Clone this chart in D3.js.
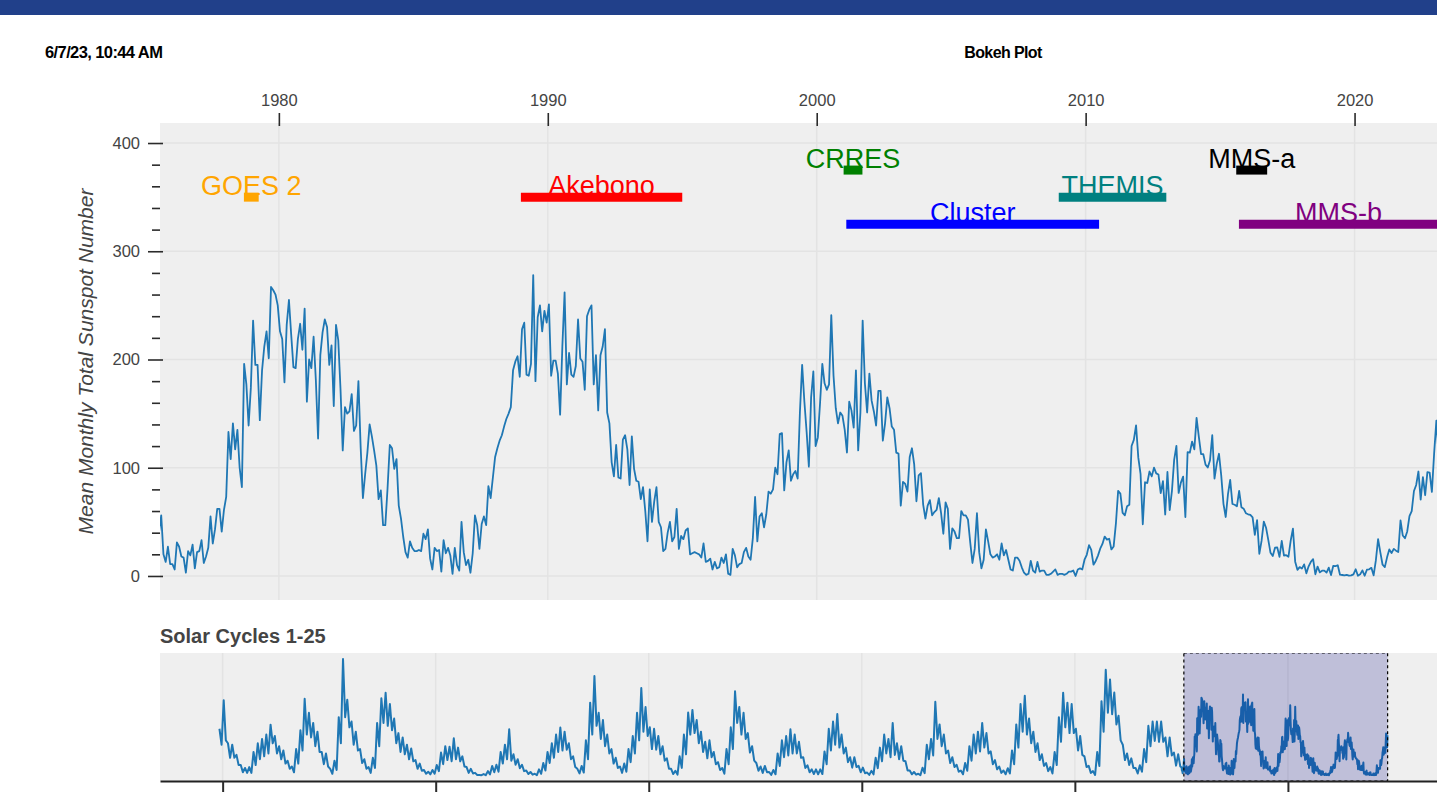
<!DOCTYPE html>
<html><head><meta charset="utf-8">
<script src="https://cdn.jsdelivr.net/npm/d3@7"></script>
<style>
html,body{margin:0;padding:0;background:#fff;overflow:hidden;}
svg{display:block;font-family:"Liberation Sans",Arial,Helvetica,sans-serif;}
</style></head><body>
<svg id="chart" width="1437" height="811"></svg>
<script>
// ---------------- DATA ----------------
const headerDate = "6/7/23, 10:44 AM";
const headerTitle = "Bokeh Plot";
const yAxisTitle = "Mean Monthly Total Sunspot Number";
const overviewTitle = "Solar Cycles 1-25";

const topTickYears = [1980, 1990, 2000, 2010, 2020];
const yMajorTicks = [0, 100, 200, 300, 400];
const yMinorTicks = [20, 40, 60, 80, 120, 140, 160, 180, 220, 240, 260, 280, 320, 340, 360, 380];
const bottomTickYears = [1750, 1800, 1850, 1900, 1950, 2000];

// monthly mean total sunspot number, starting January 1975
const monthlyStartYear = 1975;
const monthlySSN = [
  27,16,16,7,13,16,40,56,20,13,27,11,
  11,6,31,27,18,17,3,23,19,29,7,22,
  23,33,12,18,26,55,30,43,62,62,41,61,
  73,133,108,141,117,135,100,82,196,177,139,174,
  236,195,195,144,190,212,226,201,267,264,260,250,
  226,219,179,232,255,223,193,192,219,233,209,247,
  161,200,192,221,181,127,204,225,237,230,195,213,
  157,232,218,173,116,156,150,152,168,134,139,180,
  119,72,94,114,140,129,116,102,71,79,47,47,
  81,121,118,99,108,65,53,36,22,17,32,26,
  23,23,24,23,39,34,43,16,6,26,23,24,
  4,33,21,26,19,2,26,10,5,50,22,10,
  15,3,21,56,47,25,48,55,47,83,72,91,
  110,118,125,130,138,145,150,156,190,198,203,184,
  228,234,186,185,196,278,180,239,250,226,245,234,
  251,185,199,199,187,149,212,262,177,206,186,184,
  194,237,201,198,172,240,246,250,177,204,153,204,
  212,228,151,141,105,92,121,91,90,126,130,117,
  84,129,99,88,87,71,82,60,32,80,50,69,
  82,50,45,23,25,40,50,32,36,62,25,37,
  34,42,44,20,21,22,21,20,17,30,13,14,
  16,6,13,7,8,17,12,20,2,1,25,19,
  8,11,12,22,26,18,15,35,73,32,55,58,
  45,57,78,76,80,100,94,131,132,79,105,116,
  88,94,97,90,151,195,161,133,101,165,189,120,
  128,160,196,178,172,177,241,185,155,141,151,148,
  135,114,161,153,137,190,116,151,236,178,151,187,
  162,152,139,171,171,125,141,165,155,138,135,114,
  113,65,87,85,78,110,118,103,69,93,95,66,
  53,65,70,56,59,61,72,58,39,68,62,25,
  44,41,35,35,60,56,56,52,31,12,25,58,
  22,7,15,43,32,20,17,18,20,15,30,19,
  24,15,6,5,17,17,14,8,3,1,2,14,
  5,3,13,4,5,5,1,1,2,4,6,1,
  2,2,1,2,4,4,5,0,6,7,6,15,
  19.6,28.5,24.0,10.4,13.9,18.8,25.2,29.6,36.4,33.6,34.4,24.5,
  27.3,48.3,78.6,76.1,58.2,56.1,64.5,65.8,120.1,125.7,139.1,109.3,
  94.4,47.8,86.6,85.9,96.5,92.0,100.1,94.8,93.7,76.5,87.6,56.8,
  96.1,60.9,78.3,107.3,120.2,76.7,86.2,91.8,54.5,114.4,113.9,124.2,
  117.0,146.1,128.7,112.5,112.5,102.9,100.2,106.9,130.0,90.0,103.6,112.9,
  93.0,66.7,54.5,75.3,88.8,66.5,65.8,64.4,78.6,63.6,62.2,58.0,
  57.0,56.4,54.1,37.9,51.5,20.5,32.4,50.2,44.6,33.4,21.4,18.5,
  26.1,26.4,17.7,32.3,18.9,19.2,17.8,32.6,43.7,13.2,5.7,8.2,
  6.8,10.7,2.5,8.9,13.1,15.6,1.6,8.7,3.3,4.9,4.9,3.1,
  7.7,0.8,9.4,9.1,9.9,1.2,0.9,0.5,1.1,0.4,0.5,1.5,
  6.2,0.2,1.5,5.2,0.2,5.8,6.1,7.5,0.6,14.4,34.0,21.8,
  10.4,8.2,17.2,24.5,21.2,25.0,23.4,22.1,51.3,37.4,34.8,41.1,
  55.3,59.9,78.5,84.1,96.5,70.5,91.4,74.6,96.0,95.5,77.6,113.1,
  143.6,110.9,122.6,96.4,137.4
];

// historic record (two readings per year: first half, second half), 1749-1974
const histStartYear = 1749;
const histHalfYearSSN = [
  160,105, 258,120, 110,60, 105,60, 70,35, 35,10, 25,8, 28,8, 80,35, 110,55,
  125,65, 140,75, 174,110, 135,75, 100,55, 85,40, 50,22, 30,10, 90,40, 155,85,
  263,140, 215,130, 180,100, 150,80, 80,38, 75,30, 22,5, 50,18, 200,110, 400,200,
  260,165, 185,105, 150,85, 90,42, 55,22, 28,8, 60,25, 180,100, 265,180, 284,170,
  245,155, 195,110, 145,80, 130,72, 105,55, 92,48, 52,22, 40,15, 18,5, 12,3,
  18,5, 35,14, 78,38, 100,52, 98,48, 127,55, 95,48, 65,30, 28,8, 22,6,
  8,1, 1,0, 4,0, 14,3, 32,10, 36,12, 80,40, 105,55, 158,50, 72,36,
  55,24, 36,14, 16,4, 11,2, 5,0, 20,5, 42,16, 80,42, 110,60, 140,80,
  164,85, 150,88, 110,55, 65,28, 22,6, 32,9, 120,55, 250,140, 342,170, 215,125,
  190,100, 140,75, 90,40, 60,25, 30,8, 40,12, 90,45, 135,75, 215,120, 300,150,
  235,135, 165,90, 160,88, 135,72, 100,50, 58,22, 22,4, 15,2, 65,25, 140,72,
  216,140, 225,145, 190,110, 150,80, 115,58, 120,62, 80,38, 45,18, 25,5, 90,38,
  165,90, 289,180, 235,140, 215,125, 145,78, 100,50, 42,15, 30,8, 32,10, 11,1,
  18,3, 75,32, 120,62, 135,68, 158,75, 140,75, 115,60, 62,25, 34,10, 20,4,
  20,3, 20,4, 82,38, 160,85, 185,105, 211,95, 140,75, 95,45, 62,26, 62,28,
  32,10, 26,7, 9,1, 15,3, 60,24, 95,48, 140,75, 125,62, 180,70, 110,55,
  100,50, 48,16, 16,3, 11,2, 5,0, 26,7, 105,55, 125,68, 253,125, 175,100,
  140,75, 85,42, 62,28, 36,12, 16,3, 42,15, 100,50, 140,75, 150,82, 180,95,
  145,75, 82,38, 52,20, 30,8, 16,3, 24,6, 85,38, 175,95, 245,150, 274,140,
  195,110, 150,80, 110,52, 72,32, 42,14, 28,6, 80,35, 200,115, 284,165, 250,145,
  245,145, 160,85, 135,70, 65,28, 32,8, 14,1, 80,32, 255,150, 363,215, 330,210,
  285,175, 205,120, 105,52, 75,35, 58,25, 25,6, 34,12, 90,45, 170,100, 185,118,
  185,115, 185,115, 130,65, 130,68, 78,33, 72,30
];

// missions: names, start/end (decimal year), level on the y axis
const missionNames  = ["GOES 2", "Akebono", "CRRES", "Cluster", "THEMIS", "MMS-a", "MMS-b"];
const missionStart  = [1978.7, 1989.0, 2001.0, 2001.1, 2009.0, 2015.6, 2015.7];
const missionEnd    = [1979.25, 1995.0, 2001.7, 2010.5, 2013.0, 2016.75, 2023.1];
const missionLevel  = [350, 350, 375, 325, 350, 375, 325];
const missionColors = ["#ffa500", "#ff0000", "#008000", "#0000ff", "#008080", "#000000", "#800080"];

// ---------------- BUILD ----------------
const monthly = monthlySSN.map((v, i) => ({t: monthlyStartYear + (i + 0.5) / 12, v}));
const historic = histHalfYearSSN.map((v, i) => ({t: histStartYear + i * 0.5 + 0.25, v}));
const fullRecord = historic.concat(monthly);
const missions = missionNames.map((n, i) => ({name: n, s: missionStart[i], e: missionEnd[i], lvl: missionLevel[i], color: missionColors[i]}));

const W = 1437;
const svg = d3.select("#chart");
const frameL = 160, frameR = 1446, topT = 123, topB = 600, botT = 653, botB = 781;
const bg = "#efefef", gridColor = "#e3e3e3", lineColor = "#1f77b4", tickColor = "#2b2b2b", labelColor = "#444";

const xTop = d3.scaleLinear().domain([1975.58, 2023.4]).range([frameL, frameR]);
const yTop = d3.scaleLinear().domain([-22.2, 418.5]).range([topB, topT]);
const xBot = d3.scaleLinear().domain([1735.3, 2037.1]).range([frameL, frameR]);
const yBot = d3.scaleLinear().domain([-20, 421]).range([botB, botT]);

// header
svg.append("rect").attr("x", 0).attr("y", 0).attr("width", W).attr("height", 15).attr("fill", "#21408a");
svg.append("text").attr("x", 45).attr("y", 58).attr("font-size", 16.5).attr("font-weight", "bold")
  .attr("letter-spacing", -0.6).attr("fill", "#000").text(headerDate);
svg.append("text").attr("x", 1003).attr("y", 58).attr("text-anchor", "middle").attr("font-size", 16)
  .attr("font-weight", "bold").attr("letter-spacing", -0.6).attr("fill", "#000").text(headerTitle);

const defs = svg.append("defs");
defs.append("clipPath").attr("id", "clipTop").append("rect")
  .attr("x", frameL).attr("y", topT).attr("width", frameR - frameL).attr("height", topB - topT);
defs.append("clipPath").attr("id", "clipBot").append("rect")
  .attr("x", frameL).attr("y", botT).attr("width", frameR - frameL).attr("height", botB - botT);

// ---- top plot ----
svg.append("rect").attr("x", frameL).attr("y", topT).attr("width", frameR - frameL).attr("height", topB - topT).attr("fill", bg);
const gTop = svg.append("g").attr("clip-path", "url(#clipTop)");
gTop.selectAll("line.vg").data(topTickYears).join("line").attr("class", "vg")
  .attr("x1", d => xTop(d)).attr("x2", d => xTop(d)).attr("y1", topT).attr("y2", topB)
  .attr("stroke", gridColor).attr("stroke-width", 1.5);
gTop.selectAll("line.hg").data(yMajorTicks).join("line").attr("class", "hg")
  .attr("x1", frameL).attr("x2", frameR).attr("y1", d => yTop(d)).attr("y2", d => yTop(d))
  .attr("stroke", gridColor).attr("stroke-width", 1.5);

gTop.append("path").datum(monthly)
  .attr("d", d3.line().x(d => xTop(d.t)).y(d => yTop(d.v)))
  .attr("fill", "none").attr("stroke", lineColor).attr("stroke-width", 1.8).attr("stroke-linejoin", "round");

// mission labels then bars on top
gTop.selectAll("text.ml").data(missions).join("text").attr("class", "ml")
  .attr("x", d => xTop((d.s + d.e) / 2)).attr("y", d => yTop(d.lvl) - 2)
  .attr("text-anchor", "middle").attr("font-size", 27).attr("fill", d => d.color).text(d => d.name);
gTop.selectAll("line.mb").data(missions).join("line").attr("class", "mb")
  .attr("x1", d => xTop(d.s)).attr("x2", d => xTop(d.e))
  .attr("y1", d => yTop(d.lvl)).attr("y2", d => yTop(d.lvl))
  .attr("stroke", d => d.color).attr("stroke-width", 9);

// top x axis
const axTop = svg.append("g").attr("transform", `translate(0,${topT + 3})`)
  .call(d3.axisTop(xTop).tickValues(topTickYears).tickFormat(d3.format("d")).tickSizeInner(13).tickSizeOuter(0).tickPadding(7));
axTop.select(".domain").remove();
axTop.selectAll("line").attr("stroke", tickColor).attr("stroke-width", 1.6);
axTop.selectAll("text").attr("font-size", 16.5).attr("fill", labelColor).attr("font-family", "Liberation Sans, Arial, sans-serif");

// left y axis
const axY = svg.append("g").attr("transform", `translate(${frameL + 3},0)`)
  .call(d3.axisLeft(yTop).tickValues(yMajorTicks).tickFormat(d3.format("d")).tickSizeInner(15).tickSizeOuter(0).tickPadding(8));
axY.select(".domain").remove();
axY.selectAll("line").attr("stroke", tickColor).attr("stroke-width", 1.6);
axY.selectAll("text").attr("font-size", 16.5).attr("fill", labelColor).attr("font-family", "Liberation Sans, Arial, sans-serif");
const axYm = svg.append("g").attr("transform", `translate(${frameL},0)`)
  .call(d3.axisLeft(yTop).tickValues(yMinorTicks).tickFormat("").tickSizeInner(8).tickSizeOuter(0));
axYm.select(".domain").remove();
axYm.selectAll("line").attr("stroke", tickColor).attr("stroke-width", 1.6);

svg.append("text").attr("transform", `translate(93,${(topT + topB) / 2}) rotate(-90)`)
  .attr("text-anchor", "middle").attr("font-size", 21).attr("font-style", "italic").attr("fill", labelColor).text(yAxisTitle);

// ---- bottom overview plot ----
svg.append("text").attr("x", frameL).attr("y", 643).attr("font-size", 20).attr("font-weight", "bold").attr("fill", labelColor).text(overviewTitle);
svg.append("rect").attr("x", frameL).attr("y", botT).attr("width", frameR - frameL).attr("height", botB - botT).attr("fill", bg);
const gBot = svg.append("g").attr("clip-path", "url(#clipBot)");
gBot.selectAll("line.vg").data(bottomTickYears).join("line").attr("class", "vg")
  .attr("x1", d => xBot(d)).attr("x2", d => xBot(d)).attr("y1", botT).attr("y2", botB)
  .attr("stroke", gridColor).attr("stroke-width", 1.5);
gBot.append("path").datum(fullRecord)
  .attr("d", d3.line().x(d => xBot(d.t)).y(d => yBot(d.v)))
  .attr("fill", "none").attr("stroke", lineColor).attr("stroke-width", 2).attr("stroke-linejoin", "round");

// range selection overlay (extent of the top plot)
const [r0, r1] = xTop.domain();
gBot.append("rect").attr("x", xBot(r0)).attr("y", botT).attr("width", xBot(r1) - xBot(r0)).attr("height", botB - botT)
  .attr("fill", "navy").attr("fill-opacity", 0.2).attr("stroke", "#000").attr("stroke-width", 1.2).attr("stroke-dasharray", "3,3");

const axBot = svg.append("g").attr("transform", `translate(0,${botB})`)
  .call(d3.axisBottom(xBot).tickValues(bottomTickYears).tickFormat("").tickSizeInner(11).tickSizeOuter(0));
axBot.select(".domain").attr("stroke", "#222").attr("stroke-width", 2);
axBot.selectAll("line").attr("stroke", tickColor).attr("stroke-width", 2);
</script>
</body></html>
